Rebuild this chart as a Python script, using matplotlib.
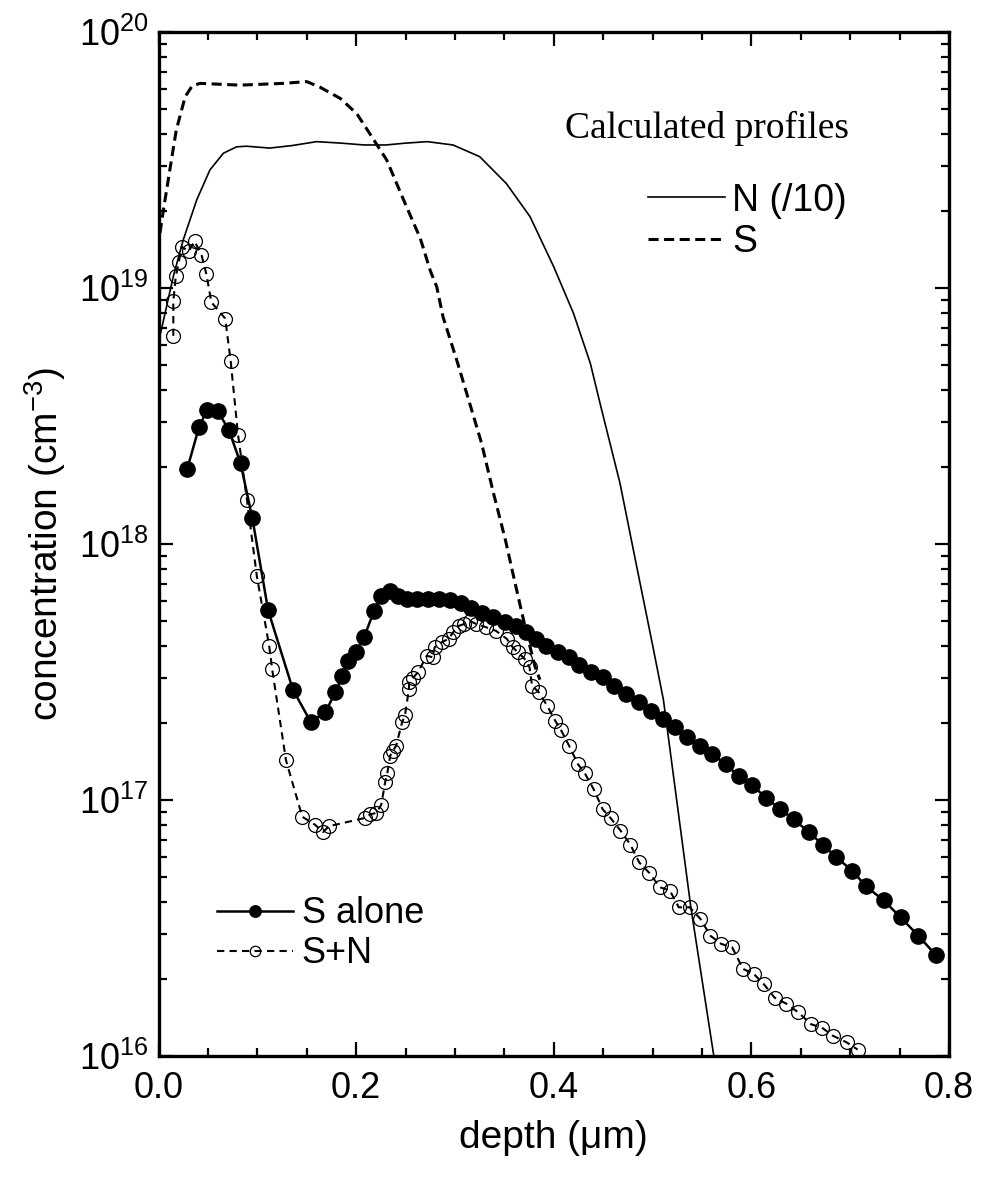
import numpy as np
import matplotlib
matplotlib.use("Agg")
import matplotlib.pyplot as plt
from matplotlib.ticker import LogLocator, NullFormatter, MultipleLocator

plt.rcParams['font.family'] = ['Liberation Sans', 'DejaVu Sans']
plt.rcParams['mathtext.default'] = 'regular'

# ── measured data: S implanted alone (filled circles) ────────────────────────
s_alone_x = [0.029, 0.041, 0.049, 0.060, 0.071, 0.083, 0.095, 0.111, 0.136, 0.154,
             0.169, 0.179, 0.186, 0.192, 0.200, 0.208, 0.218, 0.225, 0.234, 0.242,
             0.251, 0.262, 0.273, 0.284, 0.295, 0.306, 0.316, 0.327, 0.339, 0.351,
             0.362, 0.372, 0.382, 0.392, 0.404, 0.415, 0.426, 0.438, 0.450, 0.461,
             0.473, 0.486, 0.498, 0.511, 0.523, 0.535, 0.548, 0.560, 0.574, 0.587,
             0.601, 0.615, 0.629, 0.643, 0.658, 0.672, 0.686, 0.702, 0.716, 0.734,
             0.751, 0.769, 0.787]
s_alone_y = [1.96e18, 2.86e18, 3.33e18, 3.30e18, 2.80e18, 2.07e18, 1.26e18, 5.5e17, 2.7e17, 2.02e17,
             2.21e17, 2.63e17, 3.06e17, 3.48e17, 3.78e17, 4.32e17, 5.46e17, 6.24e17, 6.57e17, 6.28e17,
             6.1e17, 6.1e17, 6.1e17, 6.1e17, 6.04e17, 5.89e17, 5.63e17, 5.4e17, 5.17e17, 4.94e17,
             4.77e17, 4.55e17, 4.25e17, 4.01e17, 3.79e17, 3.61e17, 3.37e17, 3.16e17, 3.01e17, 2.80e17,
             2.59e17, 2.41e17, 2.23e17, 2.07e17, 1.92e17, 1.76e17, 1.63e17, 1.51e17, 1.38e17, 1.24e17,
             1.14e17, 1.02e17, 9.2e16, 8.4e16, 7.5e16, 6.7e16, 5.97e16, 5.3e16, 4.6e16, 4.05e16,
             3.48e16, 2.95e16, 2.47e16]

# ── measured data: S + N co-implanted (open circles) ─────────────────────────
sn_x = [0.015, 0.015, 0.0175, 0.0205, 0.0235, 0.0305, 0.0365, 0.0435, 0.0485, 0.0535,
        0.0675, 0.073, 0.0805, 0.0895, 0.0995, 0.112, 0.115, 0.129, 0.1455, 0.1585,
        0.1665, 0.1725, 0.2085, 0.2145, 0.2205, 0.2255, 0.2295, 0.2315, 0.2345, 0.2375,
        0.2405, 0.2465, 0.2495, 0.2535, 0.2535, 0.2575, 0.2625, 0.2715, 0.2775, 0.2795,
        0.2865, 0.2935, 0.2985, 0.3045, 0.3095, 0.3155, 0.3215, 0.3315, 0.3415, 0.3525,
        0.3585, 0.3635, 0.3705, 0.3755, 0.378, 0.385, 0.3935, 0.4015, 0.4075, 0.4155,
        0.4245, 0.4315, 0.4405, 0.4495, 0.4575, 0.4675, 0.4775, 0.4865, 0.4965, 0.5075,
        0.5175, 0.5265, 0.5375, 0.5485, 0.5585, 0.5695, 0.5805, 0.5915, 0.6025, 0.6125,
        0.6235, 0.6355, 0.6475, 0.6605, 0.6715, 0.6825, 0.6965, 0.7075]
sn_y = [6.5e18, 8.9e18, 1.11e19, 1.26e19, 1.45e19, 1.39e19, 1.52e19, 1.35e19, 1.13e19, 8.8e18,
        7.6e18, 5.2e18, 2.67e18, 1.49e18, 7.5e17, 4.0e17, 3.25e17, 1.43e17, 8.6e16, 8.0e16,
        7.5e16, 7.9e16, 8.5e16, 8.8e16, 8.9e16, 9.6e16, 1.18e17, 1.27e17, 1.49e17, 1.56e17,
        1.63e17, 2.01e17, 2.15e17, 2.72e17, 2.89e17, 3.0e17, 3.15e17, 3.66e17, 3.61e17, 3.95e17,
        4.13e17, 4.26e17, 4.54e17, 4.8e17, 4.87e17, 5.0e17, 4.87e17, 4.73e17, 4.58e17, 4.26e17,
        3.95e17, 3.78e17, 3.56e17, 3.3e17, 2.8e17, 2.63e17, 2.33e17, 2.04e17, 1.87e17, 1.63e17,
        1.38e17, 1.27e17, 1.10e17, 9.2e16, 8.5e16, 7.6e16, 6.7e16, 5.7e16, 5.2e16, 4.56e16,
        4.43e16, 3.81e16, 3.81e16, 3.43e16, 2.95e16, 2.74e16, 2.66e16, 2.19e16, 2.09e16, 1.91e16,
        1.69e16, 1.6e16, 1.48e16, 1.33e16, 1.29e16, 1.20e16, 1.13e16, 1.06e16]

# ── calculated profiles ──────────────────────────────────────────────────────
n_calc_x = [0.0015, 0.015, 0.025, 0.0387, 0.052, 0.0656, 0.079, 0.089, 0.1125, 0.135,
            0.160, 0.185, 0.208, 0.230, 0.250, 0.272, 0.298, 0.325, 0.352, 0.376,
            0.400, 0.420, 0.437, 0.448, 0.467, 0.484, 0.501, 0.511, 0.539, 0.562, 0.566]
n_calc_y = [6.5e18, 1.11e19, 1.54e19, 2.21e19, 2.89e19, 3.36e19, 3.56e19, 3.58e19, 3.52e19, 3.6e19,
            3.73e19, 3.68e19, 3.62e19, 3.62e19, 3.68e19, 3.73e19, 3.62e19, 3.26e19, 2.56e19, 1.9e19,
            1.21e19, 7.96e18, 5.08e18, 3.4e18, 1.73e18, 8.15e17, 3.86e17, 2.46e17, 3.75e16, 1.0e16, 8.0e15]

s_calc_x = [0.0015, 0.005, 0.012, 0.018, 0.027, 0.034, 0.042, 0.0825, 0.126, 0.150,
            0.163, 0.184, 0.2006, 0.214, 0.231, 0.248, 0.265, 0.275, 0.2816, 0.288,
            0.302, 0.319, 0.327, 0.339, 0.351, 0.361, 0.371, 0.381, 0.386]
s_calc_y = [1.64e19, 2.02e19, 2.98e19, 4.14e19, 5.59e19, 6.15e19, 6.3e19, 6.2e19, 6.3e19, 6.4e19,
            6.1e19, 5.5e19, 4.8e19, 4.0e19, 3.16e19, 2.21e19, 1.56e19, 1.17e19, 1.01e19, 7.7e18,
            5.2e18, 3.14e18, 2.47e18, 1.58e18, 1.04e18, 7.0e17, 4.75e17, 3.32e17, 2.95e17]

# ── plot ─────────────────────────────────────────────────────────────────────
fig = plt.figure(figsize=(9.81, 11.83), dpi=100, facecolor='white')
ax = fig.add_axes([158.5 / 981, 1 - 1056 / 1183, 790.5 / 981, 1024 / 1183])

l_n, = ax.plot(n_calc_x, n_calc_y, color='black', lw=1.2, label='N (/10)')
l_s, = ax.plot(s_calc_x, s_calc_y, color='black', lw=2.2, ls=(0, (3.3, 1.8)), label='S')

l_alone, = ax.plot(s_alone_x, s_alone_y, color='black', lw=1.8, marker='o', ms=11,
                   mfc='black', mec='black', label='S alone')
l_sn, = ax.plot(sn_x, sn_y, color='black', lw=1.5, ls=(0, (3.5, 2.5)), marker='o', ms=10,
                mfc='none', mec='black', mew=0.9, label='S+N')

ax.set_yscale('log')
ax.set_xlim(0, 0.8)
ax.set_ylim(1e16, 1e20)

ax.xaxis.set_major_locator(MultipleLocator(0.2))
ax.xaxis.set_minor_locator(MultipleLocator(0.05))
ax.xaxis.set_major_formatter(plt.FuncFormatter(lambda v, p: f'{v:.1f}'))
ax.yaxis.set_major_locator(LogLocator(base=10, numticks=10))
ax.yaxis.set_minor_locator(LogLocator(base=10, subs=np.arange(2, 10), numticks=20))
ax.yaxis.set_minor_formatter(NullFormatter())

ax.tick_params(which='both', direction='in', top=True, right=True, width=1.6, labelsize=26)
ax.tick_params(which='major', length=10)
ax.tick_params(which='minor', length=5.5)
ax.tick_params(axis='x', pad=11)
ax.tick_params(axis='y', pad=7)
for sp in ax.spines.values():
    sp.set_linewidth(2.4)

ax.set_xlabel('depth (\u03bcm)', fontsize=28, labelpad=10)
ax.set_ylabel('concentration (cm$^{-3}$)', fontsize=28, labelpad=8)

# legends
leg1 = ax.legend(handles=[l_n, l_s], loc='upper left', bbox_to_anchor=(0.619, 0.853),
                 frameon=False, fontsize=27, handlelength=2.05, handletextpad=0.2,
                 borderpad=0, borderaxespad=0, labelspacing=0.15)
ax.add_artist(leg1)
ax.legend(handles=[l_alone, l_sn], loc='upper left', bbox_to_anchor=(0.074, 0.156),
          frameon=False, fontsize=26, handlelength=2.1, handletextpad=0.25,
          borderpad=0, borderaxespad=0, labelspacing=0.14, numpoints=1, markerscale=0.75)

ax.text(0.514, 0.8965, 'Calculated profiles', transform=ax.transAxes, ha='left', va='baseline',
        fontsize=27, family=['Liberation Serif', 'DejaVu Serif'])

plt.savefig('out.png', dpi=100)
plt.close()
